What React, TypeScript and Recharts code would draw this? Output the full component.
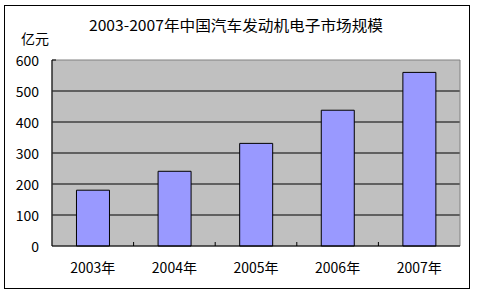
import React from 'react';
import { BarChart, Bar, XAxis, YAxis, CartesianGrid, ReferenceArea } from 'recharts';

const years = ['2003年', '2004年', '2005年', '2006年', '2007年'];
const marketSize = [180, 241, 331, 438, 560];
const yTicks = [0, 100, 200, 300, 400, 500, 600];
const gridValues = [100, 200, 300, 400, 500];
const titleText = '2003-2007年中国汽车发动机电子市场规模';
const unitText = '亿元';

const data = years.map((year, i) => ({ year, value: marketSize[i] }));

const FONT = '"Noto Sans CJK SC", "Noto Sans", sans-serif';

const XTick = (props: any) => {
  const { x, y, payload, index, visibleTicksCount, width } = props;
  const half =
    payload && typeof payload.offset === 'number' && payload.offset > 0
      ? payload.offset
      : width && visibleTicksCount
      ? width / visibleTicksCount / 2
      : 40.8;
  return (
    <g>
      <text x={x} y={y} textAnchor="middle" dominantBaseline="central" fontSize={14} fontFamily={FONT} fill="#000">
        {payload.value}
      </text>
      {index < visibleTicksCount - 1 && (
        <line x1={x + half} x2={x + half} y1={y - 21} y2={y - 25} stroke="#000" strokeWidth={1} />
      )}
    </g>
  );
};

const YTick = (props: any) => {
  const { x, y, payload } = props;
  return (
    <g>
      <text x={x} y={y} textAnchor="end" dominantBaseline="central" fontSize={14} fontFamily={FONT} fill="#000">
        {payload.value}
      </text>
      {payload.value === 600 && <line x1={x + 13} x2={x + 17} y1={y} y2={y} stroke="#000" strokeWidth={1} />}
    </g>
  );
};

export default function App() {
  return (
    <div style={{ position: 'absolute', left: 0, top: 0, width: 478, height: 296, background: '#fff', fontFamily: FONT }}>
      <div
        style={{
          position: 'absolute',
          left: 4,
          top: 5,
          width: 466,
          height: 284,
          border: '1px solid #000',
          boxSizing: 'border-box',
        }}
      />
      <svg style={{ position: 'absolute', left: 0, top: 0 }} width={478} height={50}>
        <text
          x={89}
          y={24}
          dominantBaseline="central"
          fontSize={15}
          fontFamily={FONT}
          fill="#000"
          textLength={294}
          lengthAdjust="spacingAndGlyphs"
        >
          {titleText}
        </text>
        <text x={21} y={38} dominantBaseline="central" fontSize={14} fontFamily={FONT} fill="#000">
          {unitText}
        </text>
      </svg>
      <div style={{ position: 'absolute', left: 0, top: 0 }}>
        <BarChart width={478} height={296} data={data} margin={{ top: 60, right: 18, bottom: 0, left: 0 }} barCategoryGap="30%">
          <CartesianGrid vertical={false} horizontalValues={gridValues} fill="#C0C0C0" stroke="#000" strokeWidth={1} />
          <ReferenceArea y1={0} y2={600} fill="none" stroke="#808080" strokeWidth={1} ifOverflow="extendDomain" />
          <XAxis
            dataKey="year"
            height={50}
            tickSize={0}
            tickMargin={21}
            tick={<XTick />}
            axisLine={{ stroke: '#000', strokeWidth: 1 }}
            tickLine={false}
            interval={0}
          />
          <YAxis
            width={52}
            domain={[0, 600]}
            ticks={yTicks}
            tickSize={0}
            tickMargin={13}
            tick={<YTick />}
            axisLine={{ stroke: '#000', strokeWidth: 1 }}
            tickLine={false}
            interval={0}
          />
          <Bar dataKey="value" fill="#9999FF" stroke="#000" strokeWidth={1} isAnimationActive={false} />
        </BarChart>
      </div>
    </div>
  );
}
